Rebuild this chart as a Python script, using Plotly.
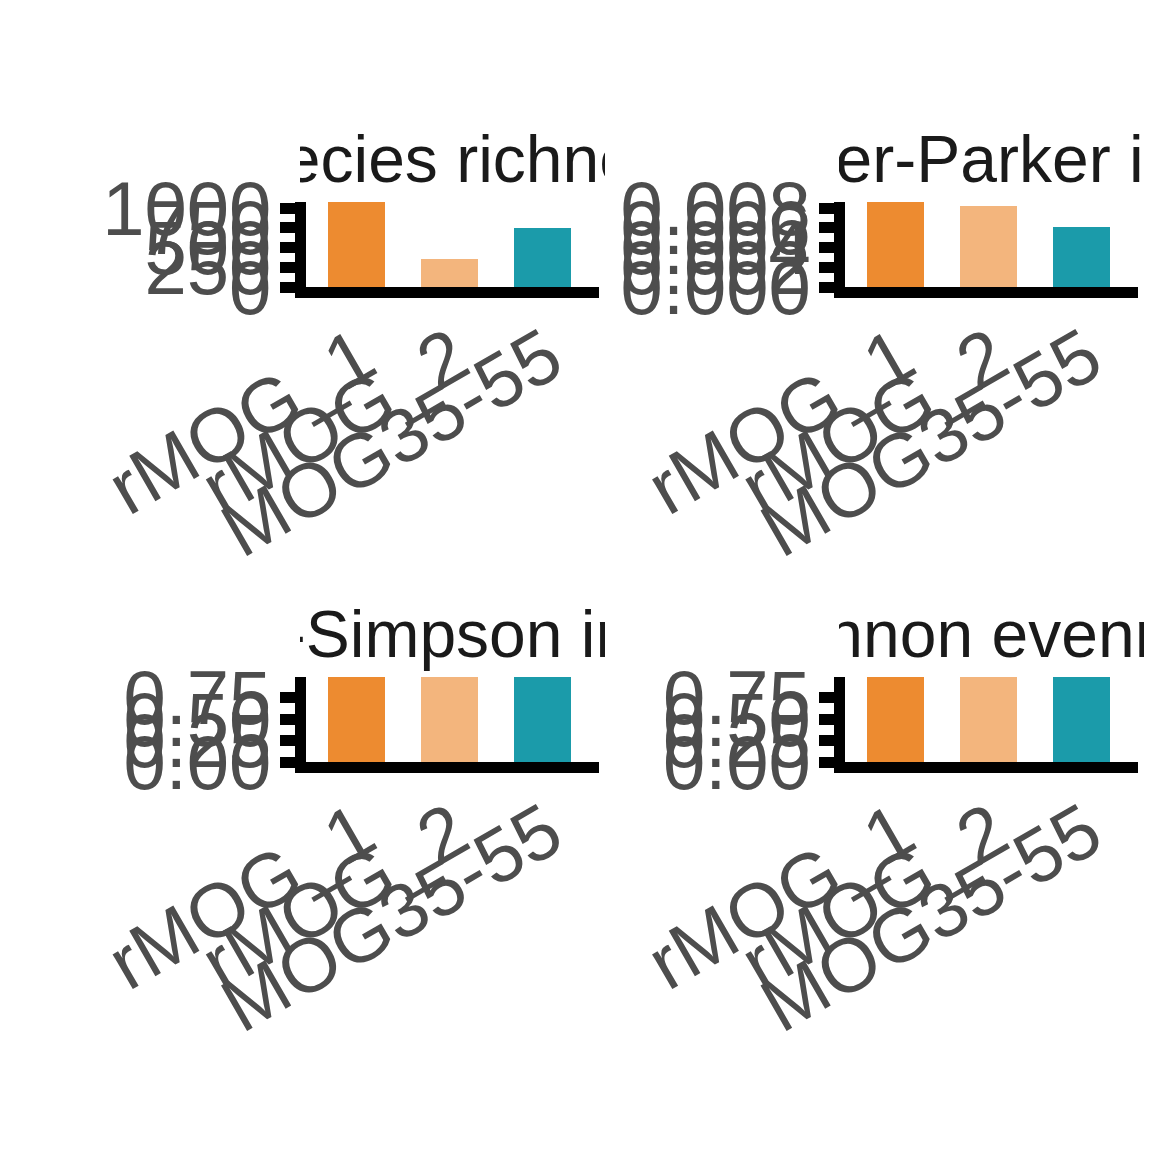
import plotly.graph_objects as go

# ---------------- data ----------------
categories = ["rMOG_1", "rMOG_2", "MOG35-55"]
bar_colors = ["#ED8B30", "#F3B57D", "#1B9BAA"]
titles = ["Species richness", "Berger-Parker index", "Gini-Simpson index", "Shannon evenness"]

species_richness = [1084, 365, 760]
berger_parker = [0.00867, 0.00829, 0.00618]
gini_simpson = [0.995, 0.994, 0.995]
shannon_evenness = [0.995, 0.993, 0.995]

series = [species_richness, berger_parker, gini_simpson, shannon_evenness]
tick_steps = [250, 0.002, 0.25, 0.25]
tick_formats = ["d", ".3f", ".2f", ".2f"]

# ---------------- layout helpers ----------------
W = H = 1152
FONT = "Liberation Sans, Arial, Helvetica, sans-serif"


def fx(px):
    return px / W


def fy(py):
    return 1 - py / H


# plot-area (left, top) in pixels for each panel
panel_origin = [(305.5, 201.5), (845.0, 201.5), (305.5, 676.5), (845.0, 676.5)]
pw, ph = 293.0, 85.5

fig = go.Figure()
layout = dict(
    width=W, height=H, autosize=False,
    margin=dict(l=0, r=0, t=0, b=0, pad=0, autoexpand=False),
    paper_bgcolor="white", plot_bgcolor="white",
    showlegend=False,
    font=dict(family=FONT),
    bargap=0,
)

annotations = []
for i, (vals, step, fmt, title) in enumerate(zip(series, tick_steps, tick_formats, titles)):
    n = "" if i == 0 else str(i + 1)
    L, T = panel_origin[i]
    fig.add_trace(go.Bar(
        x=categories, y=vals, width=0.61,
        marker=dict(color=bar_colors, line=dict(width=0)),
        xaxis="x" + n, yaxis="y" + n, hoverinfo="skip",
    ))
    layout["xaxis" + n] = dict(
        domain=[fx(L), fx(L + pw)], anchor="y" + n,
        type="category", range=[-0.535, 2.6], dtick=1,
        showline=True, linewidth=11, linecolor="black",
        ticks="", showgrid=False, zeroline=False,
        tickangle=-30, automargin=False,
        ticklabelstandoff=-13, ticklabelshift=6,
        tickfont=dict(size=76, color="#4D4D4D", family=FONT),
        fixedrange=True,
    )
    layout["yaxis" + n] = dict(
        domain=[fy(T + ph), fy(T)], anchor="x" + n,
        range=[0, max(vals)], tick0=0, dtick=step, tickformat=fmt,
        showline=True, linewidth=11, linecolor="black",
        ticks="outside", ticklen=15, tickwidth=11, tickcolor="black",
        showgrid=False, zeroline=False, automargin=False,
        ticklabelstandoff=-7,
        tickfont=dict(size=76, color="#4D4D4D", family=FONT),
        fixedrange=True,
    )
    annotations.append(dict(
        text=title, xref="paper", yref="paper",
        x=fx(L + pw / 2), y=fy(T - 3.5),
        xanchor="center", yanchor="bottom", align="center",
        width=305, showarrow=False,
        font=dict(size=66, color="#1A1A1A", family=FONT),
    ))

layout["annotations"] = annotations
fig.update_layout(**layout)
fig.write_html("out.html")
